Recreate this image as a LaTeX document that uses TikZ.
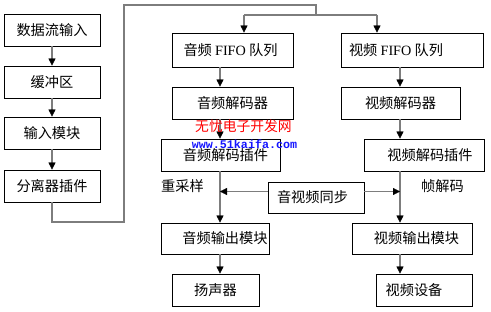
\documentclass[tikz,border=0pt]{standalone}
\usepackage{fontspec}
\setmainfont{Liberation Serif}
\newfontfamily\cjk{Noto Sans CJK SC}
\newfontfamily\monob{Liberation Mono}
\usetikzlibrary{arrows.meta}
\definecolor{lg}{RGB}{125,125,125}
\definecolor{wmred}{RGB}{255,0,0}
\definecolor{wmblue}{RGB}{20,20,255}
\begin{document}
\begin{tikzpicture}[x=1pt,y=-1pt,
  box/.style={draw=black, line width=0.9pt, fill=white, inner sep=0pt,
    minimum height=32pt, font=\cjk\fontsize{14.2}{15}\selectfont},
  conn/.style={draw=lg, line width=1.8pt},
  arr/.style={conn, -{Triangle[length=7pt,width=7pt,line width=0.3pt,color=black,fill=black]}},
  lbl/.style={inner sep=0pt, font=\cjk\fontsize{14.2}{15}\selectfont}]
\useasboundingbox (0,0) rectangle (491,312);
\fill[white] (0,0) rectangle (491,312);

% left column
\node[box, minimum width=96pt] (in1) at (52,30) {数据流输入};
\node[box, minimum width=96pt] (buf) at (52,82) {缓冲区};
\node[box, minimum width=96pt] (inm) at (52,133) {输入模块};
\node[box, minimum width=96pt] (dmx) at (52,186) {分离器插件};

% audio branch
\node[box, minimum width=121pt, minimum height=34pt] (afifo) at (232.5,50) {\hspace*{-4pt}音频 {\rmfamily FIFO} 队列};
\node[box, minimum width=121pt] (adec) at (232.5,103) {音频解码器};
\node[box, minimum width=119pt] (aplug) at (220.5,155) {\hspace*{10pt}音频解码插件};
\node[box, minimum width=108pt, minimum height=31pt] (aout) at (215,238.5) {\hspace*{20pt}音频输出模块};
\node[box, minimum width=87pt] (spk) at (215.5,290) {扬声器};

% video branch
\node[box, minimum width=142pt, minimum height=34pt] (vfifo) at (412,50) {\hspace*{-32pt}视频 {\rmfamily FIFO} 队列};
\node[box, minimum width=119pt] (vdec) at (400.5,103) {视频解码器};
\node[box, minimum width=120pt] (vplug) at (424,155) {\hspace*{12pt}视频解码插件};
\node[box, minimum width=120pt, minimum height=31pt] (vout) at (412,238.5) {\hspace*{9pt}视频输出模块};
\node[box, minimum width=96pt] (vdev) at (424,290) {\hspace*{-20pt}视频设备};

% sync
\node[box, minimum width=96pt, minimum height=31pt] (sync) at (316,197.5) {\hspace*{-7pt}音视频同步};

% side labels
\node[lbl] (resamp) at (182.5,186) {重采样};
\node[lbl] (fdec) at (442.5,186) {帧解码};

% helper coordinates
\coordinate (ax) at (220,0);
\coordinate (vx) at (400,0);
\coordinate (j1) at (124,222);
\coordinate (j2) at (124,5);
\coordinate (j3) at (316,5);
\coordinate (j4) at (316,15);
\coordinate (ja) at (244,15);
\coordinate (jv) at (377,15);
\coordinate (sy) at (0,191.5);

% left column arrows
\draw[arr] (in1) -- (buf);
\draw[arr] (buf) -- (inm);
\draw[arr] (inm) -- (dmx);

% main routing
\draw[conn] (dmx.south) |- (j1) -- (j2) -- (j3) -- (j4);
\draw[conn] (ja) -- (jv);
\draw[arr] (ja) -- (ja |- afifo.north);
\draw[arr] (jv) -- (jv |- vfifo.north);

% audio chain
\draw[arr] (ax |- afifo.south) -- (ax |- adec.north);
\draw[arr] (ax |- adec.south) -- (ax |- aplug.north);
\draw[arr] (ax |- aplug.south) -- (ax |- aout.north);
\draw[arr] (ax |- aout.south) -- (ax |- spk.north);

% video chain
\draw[arr] (vx |- vfifo.south) -- (vx |- vdec.north);
\draw[arr] (vx |- vdec.south) -- (vx |- vplug.north);
\draw[arr] (vx |- vplug.south) -- (vx |- vout.north);
\draw[arr] (vx |- vout.south) -- (vx |- vdev.north);

% sync arrows
\draw[arr] (sync.west |- sy) -- (ax |- sy);
\draw[arr] (sync.east |- sy) -- (vx |- sy);

% watermark
\node[inner sep=0pt, text=wmred, font=\cjk\fontsize{13.8}{14}\selectfont] (wm1) at (243.5,126) {无忧电子开发网};
\node[inner sep=0pt, text=wmblue, font=\monob\bfseries\fontsize{11.7}{12}\selectfont] (wm2) at (244.5,144.5) {www.51kaifa.com};
\end{tikzpicture}
\end{document}
